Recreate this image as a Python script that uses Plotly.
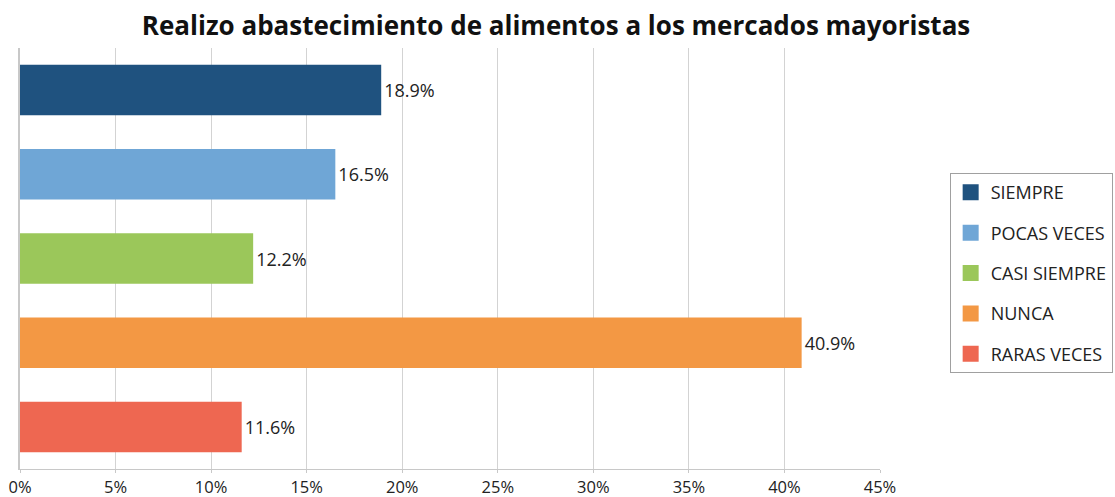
import plotly.graph_objects as go

categorias = ["SIEMPRE", "POCAS VECES", "CASI SIEMPRE", "NUNCA", "RARAS VECES"]
valores = [18.9, 16.5, 12.2, 40.9, 11.6]
colores = ["#1f527f", "#6fa6d6", "#9bc75a", "#f39844", "#ee6751"]
ticks_x = [0, 5, 10, 15, 20, 25, 30, 35, 40, 45]

fuente = "Open Sans"

fig = go.Figure()

# barras (una sola traza, un color por categoria)
fig.add_trace(go.Bar(
    x=valores,
    y=categorias,
    orientation="h",
    marker=dict(color=colores, line=dict(width=0)),
    width=0.6,
    text=[f"{v}%" for v in valores],
    textposition="outside",
    textfont=dict(size=18, color="#222222", family=fuente),
    cliponaxis=False,
    showlegend=False,
))

# entradas de leyenda
for i, (cat, col) in enumerate(zip(categorias, colores)):
    fig.add_trace(go.Scatter(
        x=[None], y=[None],
        mode="markers",
        marker=dict(symbol="square", size=16, color=col),
        name=cat,
        legendgroup=str(i),
    ))

fig.update_layout(
    width=1115,
    height=497,
    plot_bgcolor="white",
    paper_bgcolor="white",
    margin=dict(l=20, r=235, t=48, b=28, autoexpand=False),
    title=dict(
        text="<b>Realizo abastecimiento de alimentos a los mercados mayoristas</b>",
        x=0.4987, xanchor="center", y=0.948, yanchor="middle",
        font=dict(size=26, color="#111111", family=fuente),
    ),
    font=dict(family=fuente, size=16, color="#222222"),
    legend=dict(
        x=1.081, xanchor="left",
        y=0.703, yanchor="top",
        bordercolor="#a0a0a0", borderwidth=1,
        font=dict(size=18, color="#222222"),
        tracegroupgap=14,
        itemwidth=30,
    ),
    bargap=0.4,
)

fig.update_xaxes(
    range=[0, 45],
    tickvals=ticks_x,
    ticktext=[f"{t}%" for t in ticks_x],
    showgrid=True, gridcolor="#d3d3d3", gridwidth=1,
    showline=True, linecolor="#c8c8c8", linewidth=1,
    ticks="outside", ticklen=3, tickcolor="#c8c8c8",
    zeroline=False,
    automargin=False,
    ticklabeloverflow="allow",
    tickfont=dict(size=16.5, color="#222222"),
)
fig.update_yaxes(
    categoryorder="array",
    categoryarray=categorias[::-1],
    showticklabels=False,
    showgrid=False,
    showline=True, linecolor="#c8c8c8", linewidth=2,
    zeroline=False,
    automargin=False,
)

# quitar el margen por defecto del body para que la figura empiece en (0, 0)
fig.write_html(
    "out.html",
    config={"displayModeBar": False},
    post_script="document.body.style.margin = '0';",
)
